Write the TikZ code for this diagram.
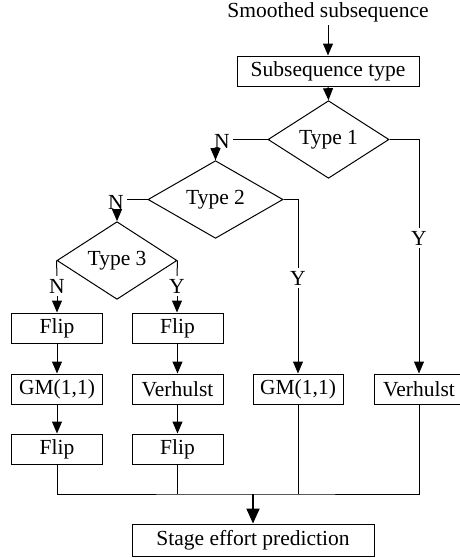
\documentclass[tikz,border=0pt]{standalone}
\usepackage{fontspec}
\setmainfont{Liberation Serif}
\usetikzlibrary{shapes.geometric,arrows.meta,calc}
\begin{document}
\begin{tikzpicture}[x=1pt,y=-1pt,
  every node/.style={font=\fontsize{21.5}{25}\selectfont},
  box/.style={draw,line width=1pt,minimum width=91pt,minimum height=30pt,inner sep=0pt},
  dia/.style={draw,line width=1pt,diamond,inner sep=0pt,minimum height=45pt},
  lbl/.style={inner sep=3pt},
  ln/.style={line width=1pt},
  arr/.style={line width=1pt,-{Triangle[width=10pt,length=12pt]}},
  bigarr/.style={line width=2pt,-{Triangle[width=13pt,length=15pt]}}]
\useasboundingbox (0,0) rectangle (459,558);
% top
\node[anchor=base,inner sep=0pt] (src) at (328,17.5) {Smoothed subsequence};
\node[box,minimum width=182pt] (st) at (328,71) {Subsequence type};
\coordinate (s0) at (328,25);
\draw[arr] (s0) -- (st.north);
% diamonds
\node[dia,minimum width=121pt] (t1) at (328.5,139.5) {Type 1};
\draw[arr] (st.south) -- (t1.north);
\node[dia,minimum width=135pt] (t2) at (215.5,199.5) {Type 2};
\node[dia,minimum width=120pt] (t3) at (117,260.5) {Type 3};
% labels
\node[lbl] (n1) at (222,141) {N};
\node[lbl] (n2) at (116,202) {N};
\node[lbl] (n3) at (57,286) {N};
\node[lbl] (y3) at (177,286) {Y};
\node[lbl] (y2) at (298,278) {Y};
\node[lbl] (y1) at (419,238) {Y};
% boxes
\node[box] (f1) at (57,328) {Flip};
\node[box] (f2) at (177.5,328) {Flip};
\node[box] (g1) at (57,389) {GM(1,1)};
\node[box] (v1) at (177.5,389) {Verhulst};
\node[box,minimum width=90pt] (g2) at (298,389) {GM(1,1)};
\node[box,minimum width=90pt] (v2) at (419,389) {Verhulst};
\node[box] (f3) at (57,449) {Flip};
\node[box] (f4) at (177.5,449) {Flip};
\node[box,minimum width=242pt,minimum height=32pt] (sep) at (253,540) {Stage effort prediction};
% type 1 branches
\draw[ln] (t1.west) -- (n1.east |- t1.west);
\coordinate (a1) at (215.5,160);
\draw[arr] (a1) -- (t2.north);
\draw[ln] (t1.east) -| (y1.north);
\draw[arr] (y1.south) -- (v2.north);
% type 2 branches
\draw[ln] (t2.west) -- (n2.east |- t2.west);
\coordinate (a2) at (117,216);
\draw[arr] (a2) -- (t3.north);
\draw[ln] (t2.east) -| (y2.north);
\draw[arr] (y2.south) -- (g2.north);
% type 3 branches
\draw[ln] (t3.west) -- (n3.north);
\draw[ln] (t3.east) -- (y3.north);
\draw[arr] (n3.south) -- (f1.north);
\draw[arr] (y3.south) -- (f2.north -| y3.south);
% columns
\draw[arr] (f1.south) -- (g1.north);
\draw[arr] (g1.south) -- (f3.north);
\draw[arr] (f2.south) -- (v1.north);
\draw[arr] (v1.south) -- (f4.north);
% merge
\coordinate (m) at (253,494);
\draw[ln] (f3.south) |- (m) -| (v2.south);
\draw[ln] (f4.south) -- (f4.south |- m);
\draw[ln] (g2.south) -- (g2.south |- m);
\draw[bigarr] (m) -- (sep.north);
\end{tikzpicture}
\end{document}
